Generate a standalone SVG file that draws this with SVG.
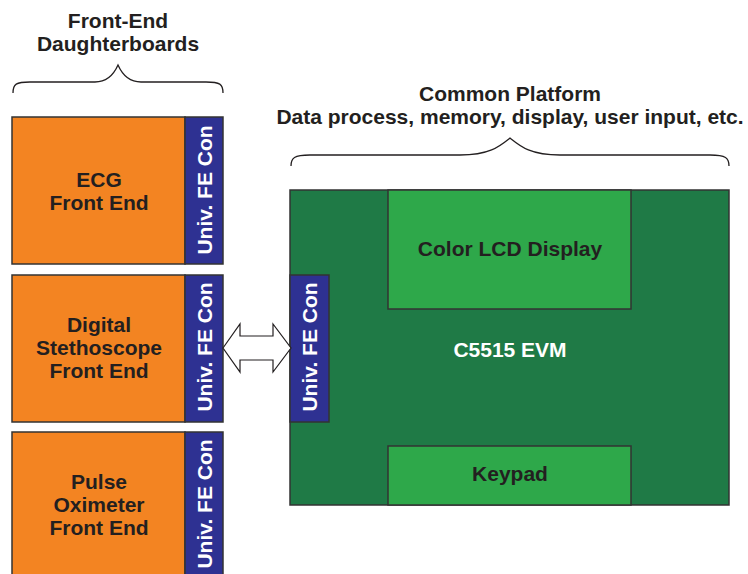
<svg xmlns="http://www.w3.org/2000/svg" width="748" height="574" viewBox="0 0 748 574">
<style>
text{font-family:"Liberation Sans",Arial,sans-serif;font-weight:bold;text-anchor:middle}
.t{font-size:21px;fill:#231f20}
.w{font-size:21px;fill:#ffffff}
.or{fill:#f38422;stroke:#333;stroke-width:1.5}
.bl{fill:#2e3192;stroke:#333;stroke-width:1.5}
.dg{fill:#1f7a46;stroke:#333;stroke-width:1.5}
.lg{fill:#2ea84a;stroke:#333;stroke-width:1.5}
.br{fill:none;stroke:#231f20;stroke-width:1.3}
</style>
<rect width="748" height="574" fill="#fff"/>
<g id="title-left">
<text class="t" x="118" y="28">Front-End</text>
<text class="t" x="118" y="51">Daughterboards</text>
<path class="br" d="M13,93 C13,84 16,82 30,82 L95,82 C108,82 114,74 118,65 C122,74 128,82 141,82 L206,82 C220,82 223,84 223,93"/>
</g>
<g id="title-right">
<text class="t" x="510" y="101">Common Platform</text>
<text class="t" x="510" y="124">Data process, memory, display, user input, etc.</text>
<path class="br" d="M291,166 C291,158 294,155 310,155 L460,155 C490,155 500,146 510,138 C520,146 530,155 560,155 L710,155 C726,155 729,158 729,166"/>
</g>
<g id="ecg">
<rect class="or" x="12" y="117" width="173" height="147"/>
<rect class="bl" x="185" y="117" width="38" height="147"/>
<text class="t" x="99" y="187">ECG</text>
<text class="t" x="99" y="210">Front End</text>
<text class="w" transform="translate(212,190) rotate(-90)">Univ. FE Con</text>
</g>
<g id="steth">
<rect class="or" x="12" y="275" width="173" height="147"/>
<rect class="bl" x="185" y="275" width="38" height="147"/>
<text class="t" x="99" y="332">Digital</text>
<text class="t" x="99" y="355">Stethoscope</text>
<text class="t" x="99" y="378">Front End</text>
<text class="w" transform="translate(212,347) rotate(-90)">Univ. FE Con</text>
</g>
<g id="pulse">
<rect class="or" x="12" y="432" width="173" height="150"/>
<rect class="bl" x="185" y="432" width="38" height="150"/>
<text class="t" x="99" y="489">Pulse</text>
<text class="t" x="99" y="512">Oximeter</text>
<text class="t" x="99" y="535">Front End</text>
<text class="w" transform="translate(212,504) rotate(-90)">Univ. FE Con</text>
</g>
<g id="evm">
<rect class="dg" x="290" y="190" width="439" height="315"/>
<text class="w" x="510" y="357">C5515 EVM</text>
</g>
<g id="lcd">
<rect class="lg" x="388" y="190" width="243" height="119"/>
<text class="t" x="510" y="256">Color LCD Display</text>
</g>
<g id="keypad">
<rect class="lg" x="388" y="446" width="243" height="59"/>
<text class="t" x="510" y="481">Keypad</text>
</g>
<g id="evm-con">
<rect class="bl" x="290" y="275" width="39" height="147"/>
<text class="w" transform="translate(317,347) rotate(-90)">Univ. FE Con</text>
</g>
<g id="connectors">
<path d="M223,348 L240,324 L240,336 L273,336 L273,324 L291,348 L273,372 L273,360 L240,360 L240,372 Z" fill="#fff" stroke="#231f20" stroke-width="1.2" stroke-linejoin="miter"/>
</g>
</svg>
